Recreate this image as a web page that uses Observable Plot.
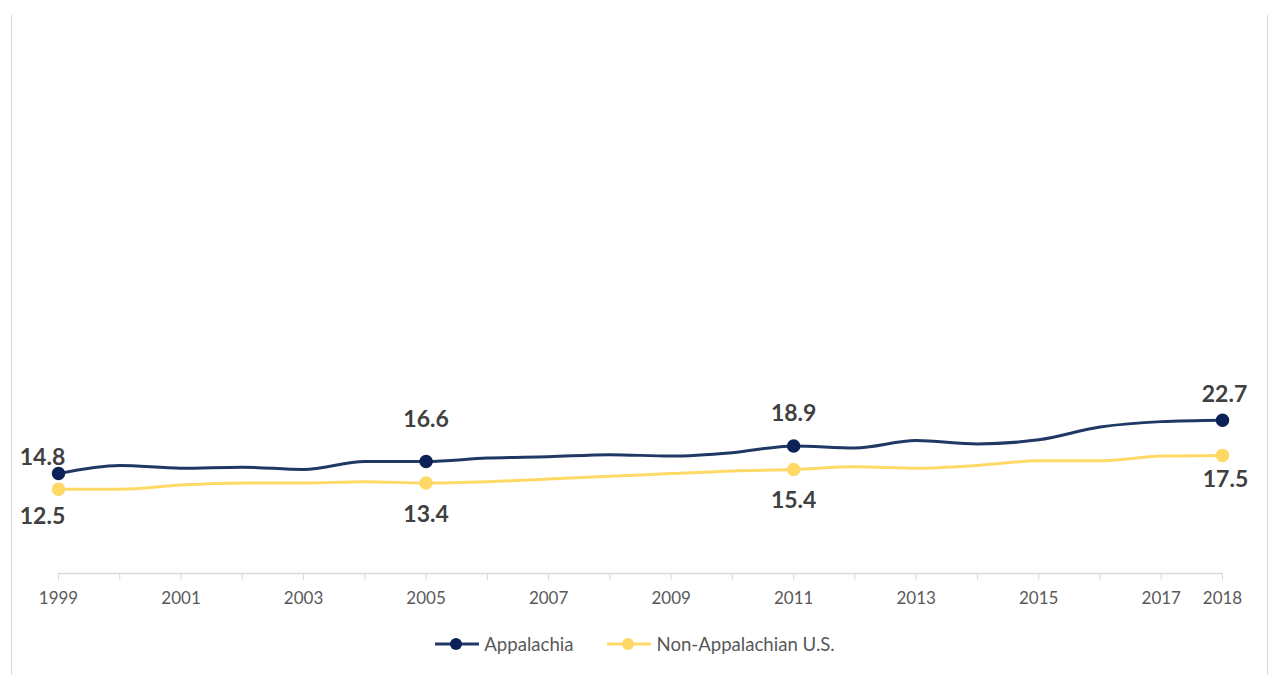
<!DOCTYPE html>
<html>
<head>
<meta charset="utf-8">
<script src="https://cdn.jsdelivr.net/npm/d3@7"></script>
<script src="https://cdn.jsdelivr.net/npm/@observablehq/plot@0.6"></script>
<style>
  body { margin: 0; background: #fff; font-family: Lato, "Open Sans", sans-serif; }
  #wrap { position: relative; width: 1270px; height: 675px; }
  #frameL { position: absolute; left: 11px; top: 15px; width: 0; height: 660px; border-left: 1.5px solid #d9d9d9; }
  #frameR { position: absolute; left: 1267px; top: 15px; width: 0; height: 660px; border-left: 1.5px solid #d9d9d9; }
  #chart { position: absolute; left: 0; top: 0; }
  #legend { position: absolute; left: 0; top: 633px; width: 1270px; display: flex; justify-content: center; gap: 34px; font-size: 18.6px; color: #595959; }
  .item { display: flex; align-items: center; gap: 5px; }
</style>
</head>
<body>
<div id="wrap">
  <div id="frameL"></div>
  <div id="frameR"></div>
  <div id="chart"></div>
  <div id="legend"></div>
</div>
<script>
const years = [1999,2000,2001,2002,2003,2004,2005,2006,2007,2008,2009,2010,2011,2012,2013,2014,2015,2016,2017,2018];
const appalachia = [14.8,16.0,15.6,15.75,15.4,16.6,16.6,17.1,17.3,17.6,17.4,17.9,18.9,18.6,19.7,19.2,19.8,21.7,22.5,22.7];
const nonAppalachia = [12.5,12.5,13.1,13.4,13.4,13.6,13.4,13.6,14.0,14.4,14.8,15.2,15.4,15.8,15.6,16.0,16.7,16.7,17.4,17.5];
const labelYears = [1999,2005,2011,2018];
const tickLabelYears = [1999,2001,2003,2005,2007,2009,2011,2013,2015,2017,2018];
const seriesNames = ["Appalachia","Non-Appalachian U.S."];
const colors = {line: ["#203864","#ffd966"], dot: ["#0c2157","#ffd966"]};

const dataA = years.map((y,i) => ({year: y, value: appalachia[i]}));
const dataN = years.map((y,i) => ({year: y, value: nonAppalachia[i]}));
const ptsA = dataA.filter(d => labelYears.includes(d.year));
const ptsN = dataN.filter(d => labelYears.includes(d.year));

// label offsets (styling)
const offA = {1999: [-16,-16], 2005: [0,-42], 2011: [0,-32], 2018: [2,-26]};
const offN = {1999: [-16,27], 2005: [0,32], 2011: [0,31], 2018: [3,24]};

const labelMarks = [];
for (const d of ptsA) {
  labelMarks.push(Plot.text([d], {x: "year", y: "value", text: d => d.value.toFixed(1), dx: offA[d.year][0], dy: offA[d.year][1], fontSize: 23, fontWeight: "bold", fill: "#404040"}));
}
for (const d of ptsN) {
  labelMarks.push(Plot.text([d], {x: "year", y: "value", text: d => d.value.toFixed(1), dx: offN[d.year][0], dy: offN[d.year][1], fontSize: 23, fontWeight: "bold", fill: "#404040"}));
}

const plot = Plot.plot({
  width: 1270,
  height: 625,
  marginLeft: 58,
  marginRight: 48,
  marginTop: 33,
  marginBottom: 52,
  style: {fontFamily: "Lato, 'Open Sans', sans-serif", background: "transparent"},
  x: {domain: [1999, 2018]},
  y: {domain: [0, 80], axis: null},
  marks: [
    Plot.ruleY([0], {stroke: "#d9d9d9", strokeWidth: 1.5}),
    Plot.axisX({ticks: years, tickSize: 7, tickPadding: 11, stroke: "#d9d9d9", strokeOpacity: 1, color: "#595959", fontSize: 17,
      tickFormat: d => tickLabelYears.includes(d) ? String(d) : "", label: null}),
    Plot.line(dataN, {x: "year", y: "value", stroke: colors.line[1], strokeWidth: 3, curve: "monotone-x"}),
    Plot.line(dataA, {x: "year", y: "value", stroke: colors.line[0], strokeWidth: 3, curve: "monotone-x"}),
    Plot.dot(ptsN, {x: "year", y: "value", r: 6, fill: colors.dot[1], stroke: colors.dot[1]}),
    Plot.dot(ptsA, {x: "year", y: "value", r: 6, fill: colors.dot[0], stroke: colors.dot[0]}),
    ...labelMarks
  ]
});
document.getElementById("chart").appendChild(plot);

const legend = document.getElementById("legend");
seriesNames.forEach((name, i) => {
  const item = document.createElement("div");
  item.className = "item";
  item.innerHTML = `<svg width="44" height="14"><line x1="0" x2="44" y1="7" y2="7" stroke="${colors.line[i]}" stroke-width="3"/><circle cx="21" cy="7" r="6" fill="${colors.dot[i]}"/></svg><span>${name}</span>`;
  legend.appendChild(item);
});
</script>
</body>
</html>
